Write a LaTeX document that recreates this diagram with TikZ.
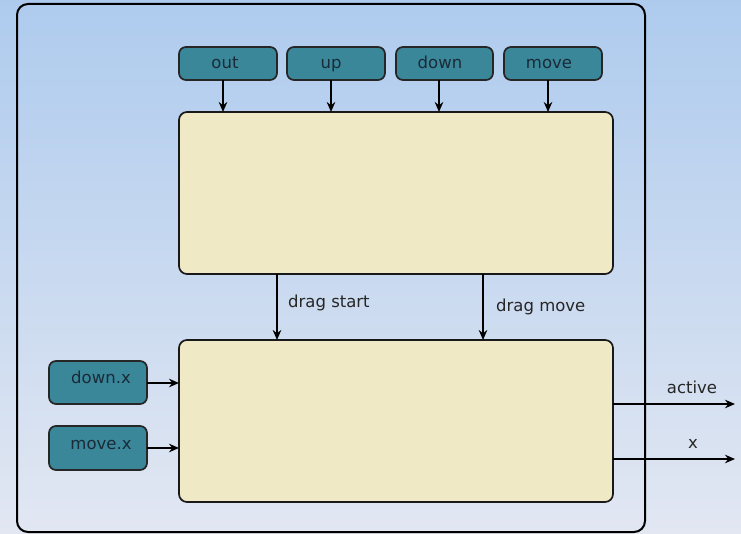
\documentclass[tikz,border=0pt]{standalone}
\usepackage{fontspec}
\setmainfont{DejaVu Sans}
\usetikzlibrary{arrows.meta}
\definecolor{bgtop}{HTML}{AECBEE}
\definecolor{bgbot}{HTML}{E2E7F2}
\definecolor{teal}{HTML}{3A8799}
\definecolor{beige}{HTML}{F0E9C6}
\definecolor{ink}{HTML}{1A2A38}
\tikzset{
  px/.style={x=1pt,y=-1pt},
  port/.style={draw=black!85,line width=1.7pt,fill=teal,rounded corners=7pt},
  block/.style={draw=black!90,line width=1.7pt,fill=beige,rounded corners=8pt},
  flow/.style={-{Stealth[length=10pt,width=8.5pt]},line width=1.7pt},
  lbl/.style={font=\fontsize{16.5}{19}\selectfont,text=black!85,inner sep=0pt,anchor=base},
  plbl/.style={lbl,text=ink}
}
\begin{document}
\begin{tikzpicture}[px]
  % canvas with vertical gradient
  \shade[top color=bgtop,bottom color=bgbot] (0,0) rectangle (741,534);
  \useasboundingbox (0,0) rectangle (741,534);
  % outer frame
  \draw[line width=2pt,rounded corners=11pt] (17,4) rectangle (645,532);

  % processing blocks
  \draw[block] (179,112) rectangle (613,274);
  \draw[block] (179,340) rectangle (613,502);

  % input ports on top
  \draw[port] (179,47) rectangle (277,80);
  \draw[port] (287,47) rectangle (385,80);
  \draw[port] (396,47) rectangle (493,80);
  \draw[port] (504,47) rectangle (602,80);
  \node[plbl] (pout)  at (225,69) {out};
  \node[plbl] (pup)   at (331,69) {up};
  \node[plbl] (pdown) at (440,69) {down};
  \node[plbl] (pmove) at (549,69) {move};

  % top arrows
  \coordinate (t1s) at (223,80);  \coordinate (t1e) at (223,112);
  \coordinate (t2s) at (331,80);  \coordinate (t2e) at (331,112);
  \coordinate (t3s) at (439,80);  \coordinate (t3e) at (439,112);
  \coordinate (t4s) at (548,80);  \coordinate (t4e) at (548,112);
  \draw[flow] (t1s) -- (t1e);
  \draw[flow] (t2s) -- (t2e);
  \draw[flow] (t3s) -- (t3e);
  \draw[flow] (t4s) -- (t4e);

  % between the blocks
  \coordinate (ds1) at (277,274); \coordinate (ds2) at (277,340);
  \coordinate (dm1) at (483,274); \coordinate (dm2) at (483,340);
  \draw[flow] (ds1) -- (ds2);
  \draw[flow] (dm1) -- (dm2);
  \node[lbl,anchor=base west] (lstart) at (288,308) {drag start};
  \node[lbl,anchor=base west] (lmove)  at (496,312) {drag move};

  % side inputs
  \draw[port] (49,361) rectangle (147,404);
  \draw[port] (49,426) rectangle (147,470);
  \node[plbl] (pdx) at (101,383) {down.x};
  \node[plbl] (pmx) at (101,449) {move.x};
  \coordinate (dx1) at (147,383); \coordinate (dx2) at (179,383);
  \coordinate (mx1) at (147,448); \coordinate (mx2) at (179,448);
  \draw[flow] (dx1) -- (dx2);
  \draw[flow] (mx1) -- (mx2);

  % outputs
  \coordinate (a1) at (613,404); \coordinate (a2) at (735,404);
  \coordinate (x1) at (613,459); \coordinate (x2) at (735,459);
  \draw[flow] (a1) -- (a2);
  \draw[flow] (x1) -- (x2);
  \node[lbl] (lactive) at (692,393) {active};
  \node[lbl] (lx)      at (693,448) {x};
\end{tikzpicture}
\end{document}
